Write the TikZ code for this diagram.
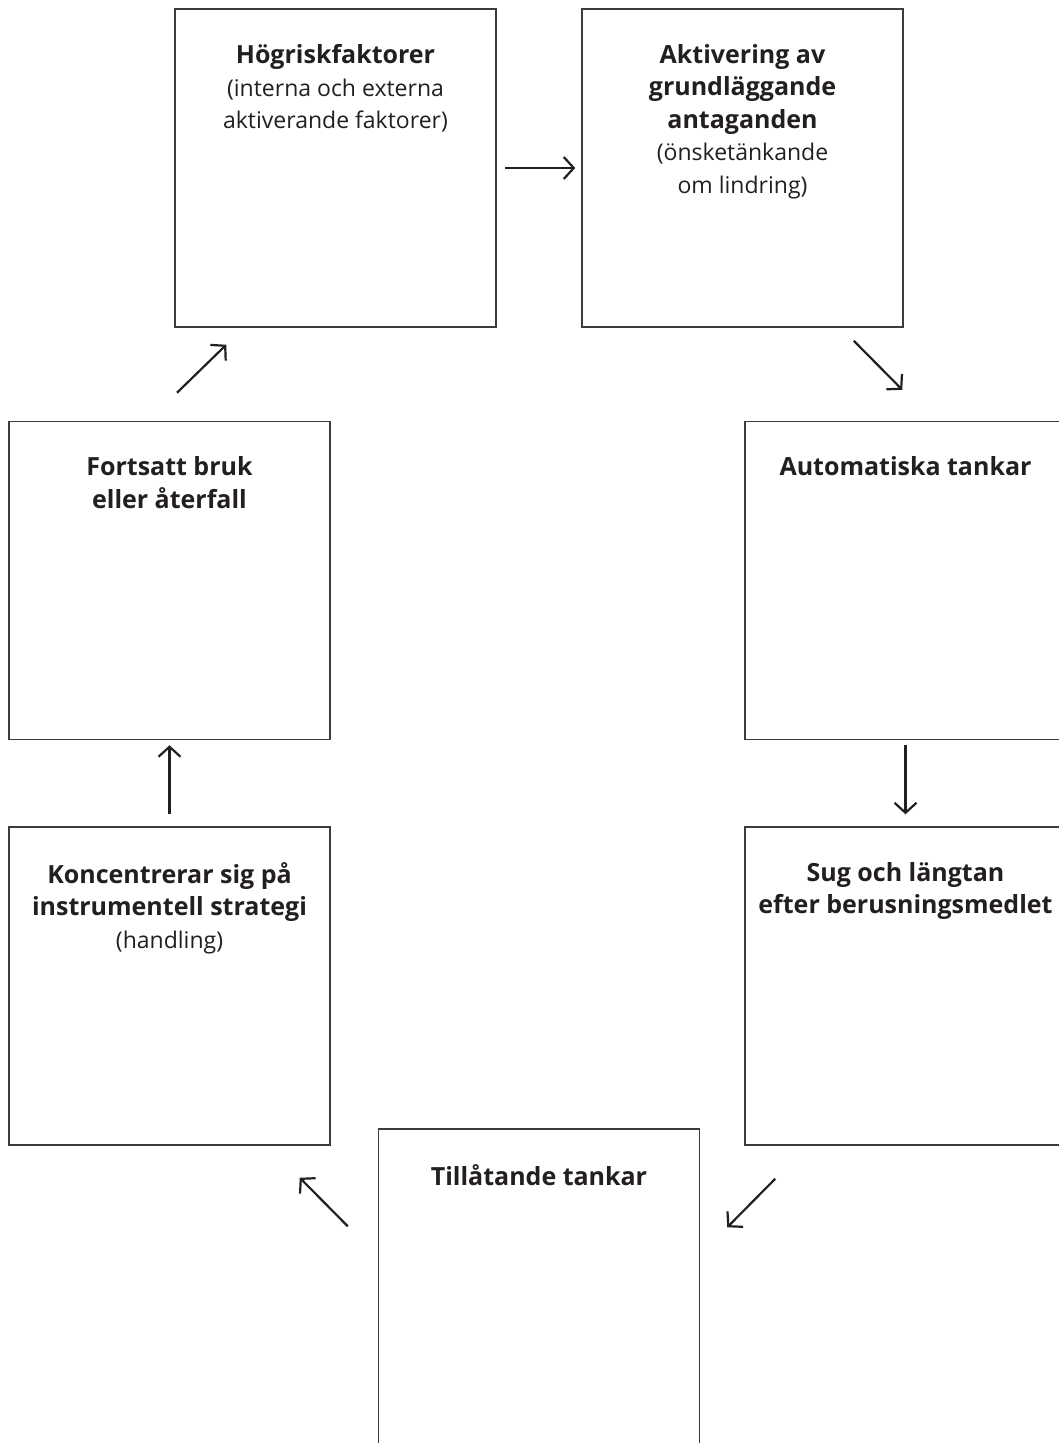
\documentclass[tikz,border=0pt]{standalone}
\usepackage{fontspec}
\setmainfont{Open Sans}
\usetikzlibrary{arrows.meta}
\definecolor{ink}{HTML}{231F20}
\definecolor{frame}{HTML}{3C3C3C}
\newcommand{\hb}[1]{{\fontsize{25}{32.5}\selectfont\bfseries #1}}
\tikzset{
  box/.style={draw=frame, line width=1.5pt, minimum width=321pt, minimum height=318pt, inner sep=0pt},
  lbl/.style={anchor=north, align=center, text=ink, font=\fontsize{23}{32.5}\selectfont, inner sep=0pt},
  arr/.style={draw=ink, line width=2.2pt, -{Straight Barb[length=10pt,width=22pt,line width=2.2pt]}},
}
\begin{document}
\begin{tikzpicture}[x=1pt,y=-1pt]
\useasboundingbox (0,0) rectangle (1059,1443);
\fill[white] (0,0) rectangle (1059,1443);
\clip (0,0) rectangle (1059,1443);
\node[box] (b1) at (335.5,168) {};
\node[box] (b2) at (742.5,168) {};
\node[box] (b3) at (905.5,580.5) {};
\node[box] (b4) at (905.5,986) {};
\node[box] (b5) at (539,1288) {};
\node[box] (b6) at (169.5,986) {};
\node[box] (b7) at (169.5,580.5) {};

\node[lbl] (t1) at ([yshift=-36pt]b1.north) {\hb{Högriskfaktorer}\\(interna och externa\\aktiverande faktorer)};
\node[lbl] (t2) at ([yshift=-36pt]b2.north) {\hb{Aktivering av}\\\hb{grundläggande}\\\hb{antaganden}\\(önsketänkande\\om lindring)};
\node[lbl] (t3) at ([yshift=-36pt]b3.north) {\hb{Automatiska tankar}};
\node[lbl] (t4) at ([yshift=-36pt]b4.north) {\hb{Sug och längtan}\\\hb{efter berusningsmedlet}};
\node[lbl] (t5) at ([yshift=-36pt]b5.north) {\hb{Tillåtande tankar}};
\node[lbl] (t6) at ([yshift=-36pt]b6.north) {\hb{Koncentrerar sig på}\\\hb{instrumentell strategi}\\(handling)};
\node[lbl] (t7) at ([yshift=-36pt]b7.north) {\hb{Fortsatt bruk}\\\hb{eller återfall}};

\draw[arr] ([xshift=8pt]b1.east) -- ([xshift=-6pt]b2.west);
\draw[arr] ([shift={(-50,13)}]b2.south east) -- ([shift={(158,-31)}]b3.north west);
\draw[arr] ([shift={(0,5)}]b3.south) -- ([shift={(0,-12)}]b4.north);
\draw[arr] ([shift={(31,33)}]b4.south west) -- ([shift={(27,99)}]b5.north east);
\draw[arr] ([shift={(-30,98)}]b5.north west) -- ([shift={(-31,32)}]b6.south east);
\draw[arr] ([shift={(0,-12)}]b6.north) -- ([shift={(0,5)}]b7.south);
\draw[arr] ([shift={(7.5,-28)}]b7.north) -- ([shift={(52,17)}]b1.south west);
\end{tikzpicture}
\end{document}
